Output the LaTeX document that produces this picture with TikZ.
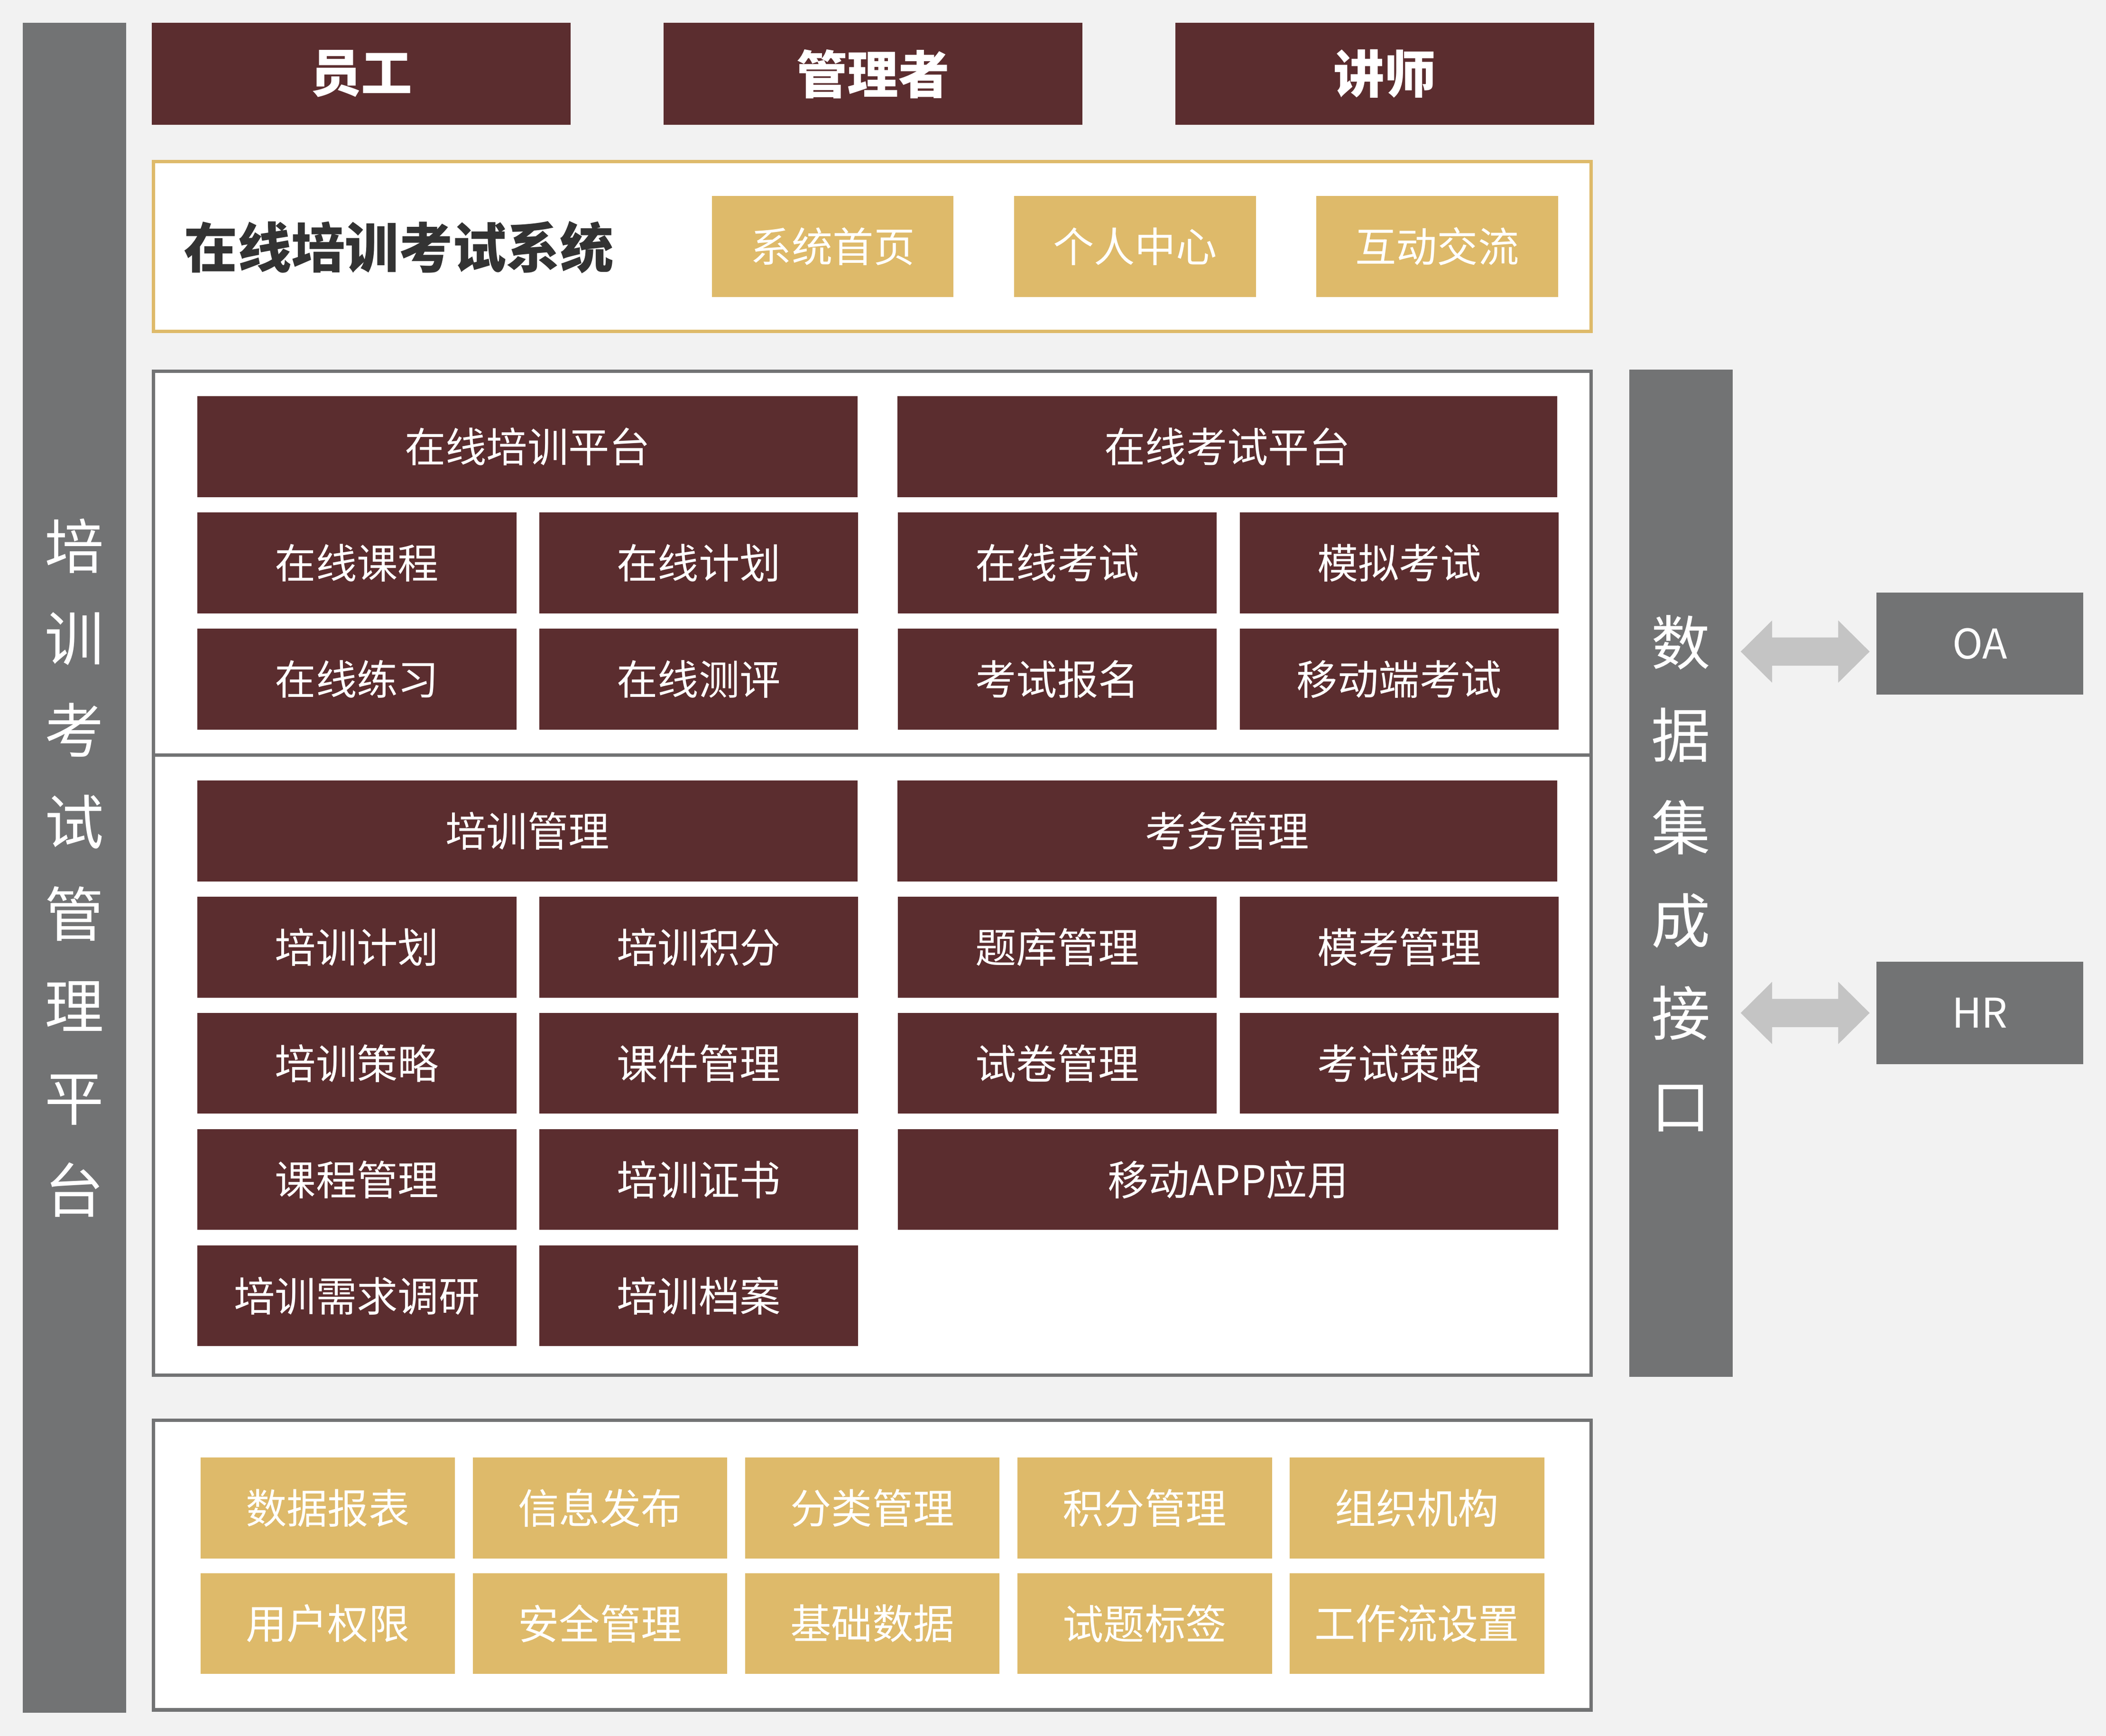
\documentclass[tikz,border=0pt]{standalone}
\usepackage{fontspec}
\newfontfamily\cjk{Noto Sans CJK SC}
\usepackage{tikz}
\usetikzlibrary{positioning,calc}
\definecolor{maroon}{RGB}{91,45,47}
\definecolor{gold}{RGB}{222,186,106}
\definecolor{bargray}{RGB}{114,115,116}
\definecolor{bggray}{RGB}{242,242,242}
\definecolor{arrowgray}{RGB}{196,196,196}
\definecolor{titlegray}{RGB}{51,51,51}

\begin{document}
\begin{tikzpicture}[
    x=1pt, y=-1pt,
    every node/.style={inner sep=0pt, outer sep=0pt},
    txt/.style={font=\cjk\fontsize{30.5}{36}\selectfont, text=white},
    cell/.style={txt, fill=maroon, minimum width=237.5pt, minimum height=75pt},
    wide/.style={cell, minimum width=491.5pt},
    role/.style={fill=maroon, text=white, minimum width=312pt, minimum height=76pt, font=\cjk\bfseries\fontsize{38}{44}\selectfont},
    tab/.style={txt, fill=gold, minimum width=180pt, minimum height=75pt},
    tool/.style={txt, fill=gold, minimum width=189.5pt, minimum height=75pt},
    ext/.style={txt, fill=bargray, minimum width=154pt, minimum height=76pt},
    side/.style={fill=bargray, text=white, minimum width=77pt, align=center},
    panel/.style={draw=bargray, line width=2.5pt, fill=white, minimum width=1070.5pt},
    link/.style={fill=arrowgray},
]
\useasboundingbox[fill=bggray] (0,0) rectangle (1568,1292);

% Side bars
\node[side, minimum height=1258pt, font=\cjk\fontsize{44}{68.5}\selectfont] (lbar) at (55.5,646) {培\\训\\考\\试\\管\\理\\平\\台};
\node[side, minimum height=750pt, font=\cjk\fontsize{44}{69}\selectfont] (dbar) at (1251.5,650) {数\\据\\集\\成\\接\\口};

% Roles
\node[role] (staff) at (269,55) {员工};
\node[role, right=69pt of staff] (manager) {管理者};
\node[role, right=69pt of manager] (lecturer) {讲师};

% Portal
\node[panel, draw=gold, minimum height=126.5pt] (sys) at (649.5,183.5) {};
\node[anchor=west, text=titlegray, font=\cjk\bfseries\fontsize{40}{46}\selectfont] (systitle) at (137,184) {在线培训考试系统};
\node[tab] (home) at (620,183.5) {系统首页};
\node[tab, right=45pt of home] (center) {个人中心};
\node[tab, right=45pt of center] (forum) {互动交流};

% Core platform
\node[panel, minimum height=747.5pt] (core) at (649.5,650) {};
\coordinate (split) at (649.5,562);
\draw[bargray, line width=2.5pt] (core.west |- split) -- (core.east |- split);

\node[wide] (trainpf) at (392.75,332.5) {在线培训平台};
\node[wide, right=29.5pt of trainpf] (exampf) {在线考试平台};
\node[cell] (course) at (265.75,419) {在线课程};
\node[cell, right=17pt of course] (plan) {在线计划};
\node[cell, right=29.5pt of plan] (exam) {在线考试};
\node[cell, right=17pt of exam] (mock) {模拟考试};
\node[cell, below=11.5pt of course] (practice) {在线练习};
\node[cell, below=11.5pt of plan] (assess) {在线测评};
\node[cell, below=11.5pt of exam] (signup) {考试报名};
\node[cell, below=11.5pt of mock] (mobile) {移动端考试};

% Management
\node[wide] (trainmg) at (392.75,618.5) {培训管理};
\node[wide, right=29.5pt of trainmg] (exammg) {考务管理};
\node[cell] (tplan) at (265.75,705) {培训计划};
\node[cell, right=17pt of tplan] (tpoint) {培训积分};
\node[cell, right=29.5pt of tpoint] (bank) {题库管理};
\node[cell, right=17pt of bank] (mockmg) {模考管理};
\node[cell, below=11.5pt of tplan] (tstrat) {培训策略};
\node[cell, below=11.5pt of tpoint] (ware) {课件管理};
\node[cell, below=11.5pt of bank] (paper) {试卷管理};
\node[cell, below=11.5pt of mockmg] (estrat) {考试策略};
\node[cell, below=11.5pt of tstrat] (coursemg) {课程管理};
\node[cell, below=11.5pt of ware] (cert) {培训证书};
\node[wide, right=29.5pt of cert] (app) {移动APP应用};
\node[cell, below=11.5pt of coursemg] (survey) {培训需求调研};
\node[cell, below=11.5pt of cert] (archive) {培训档案};

% Base services
\node[panel, minimum height=215.5pt] (basepanel) at (649.5,1165) {};
\node[tool] (report) at (244,1122.5) {数据报表};
\node[tool, right=13.25pt of report] (notice) {信息发布};
\node[tool, right=13.25pt of notice] (category) {分类管理};
\node[tool, right=13.25pt of category] (points) {积分管理};
\node[tool, right=13.25pt of points] (org) {组织机构};
\node[tool, below=11pt of report] (perm) {用户权限};
\node[tool, below=11pt of notice] (security) {安全管理};
\node[tool, below=11pt of category] (basedata) {基础数据};
\node[tool, below=11pt of points] (tags) {试题标签};
\node[tool, below=11pt of org] (workflow) {工作流设置};

% External systems
\node[ext] (oa) at (1474,479) {OA};
\node[ext] (hr) at (1474,754) {HR};

% Links
\fill[link] ($(dbar.east |- oa)+(6,6)$) -- ++(23.4,-23.2) -- ++(0,12.7) -- ++(49.2,0) -- ++(0,-12.7) -- ++(23.4,23.2) -- ++(-23.4,23.2) -- ++(0,-12.7) -- ++(-49.2,0) -- ++(0,12.7) -- cycle;
\fill[link] ($(dbar.east |- hr)+(6,0)$) -- ++(23.4,-23.2) -- ++(0,12.7) -- ++(49.2,0) -- ++(0,-12.7) -- ++(23.4,23.2) -- ++(-23.4,23.2) -- ++(0,-12.7) -- ++(-49.2,0) -- ++(0,12.7) -- cycle;
\end{tikzpicture}
\end{document}
